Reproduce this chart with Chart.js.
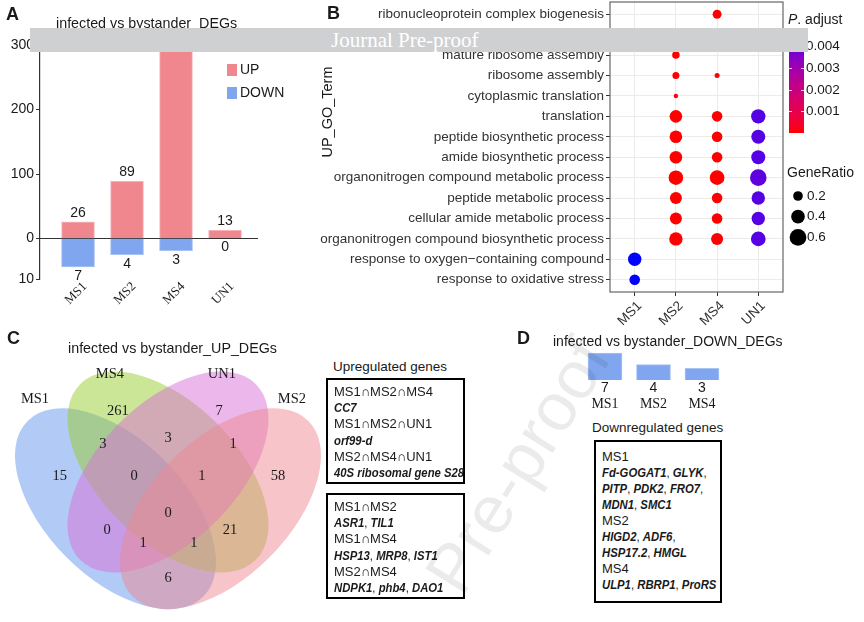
<!DOCTYPE html>
<html>
<head>
<meta charset="utf-8">
<script src="https://cdn.jsdelivr.net/npm/chart.js@4.4.1/dist/chart.umd.min.js"></script>
<style>
  body { margin: 0; background: #fff; font-family: "Liberation Sans", Arial, sans-serif; color: #1a1a1a; }
  #fig { position: relative; width: 864px; height: 622px; overflow: hidden; background: #fff; }
  canvas { position: absolute; }
  .txt { position: absolute; white-space: nowrap; line-height: 16px; font-size: 14.3px; }
  .panel { position: absolute; font-weight: bold; font-size: 18px; line-height: 20px; }
  .box { position: absolute; box-sizing: border-box; border: 2px solid #000; padding: 4px 0 0 6px; font-size: 13px; line-height: 16.2px; white-space: nowrap; }
  .box .g { display: inline-block; transform: scaleX(0.87); transform-origin: 0 50%; }
  .box i { font-weight: bold; font-size: 13px; }
  #banner { position: absolute; left: 30px; top: 28px; width: 778px; height: 24px; background: #cfd0d2; }
  #bannerText { position: absolute; left: 331px; top: 28px; line-height: 24px; font-family: "Liberation Serif", serif; font-size: 21px; color: #fff; }
  #wm { position: absolute; left: 517px; top: 465px; width: 0; height: 0; }
  #wm span { position: absolute; transform: translate(-50%, -50%) rotate(-58deg); font-size: 68px; color: rgba(0,0,0,0.08); white-space: nowrap; }
</style>
</head>
<body>
<div id="fig">
  <canvas id="aUp" width="300" height="251" style="left:0;top:0"></canvas>
  <canvas id="aDown" width="300" height="100" style="left:0;top:226px"></canvas>
  <canvas id="bDots" width="564" height="340" style="left:300px;top:-10px"></canvas>
  <canvas id="cVenn" width="330" height="267" style="left:0;top:355px"></canvas>
  <canvas id="dBars" width="160" height="75" style="left:575px;top:345px"></canvas>

  <div class="panel" style="left:6px;top:4px">A</div>
  <div class="txt" style="left:56px;top:15px">infected vs bystander_DEGs</div>
  <div class="panel" style="left:327px;top:3px">B</div>
  <div class="panel" style="left:7px;top:328px">C</div>
  <div class="txt" style="left:68px;top:340px">infected vs bystander_UP_DEGs</div>
  <div class="panel" style="left:517px;top:328px">D</div>
  <div class="txt" style="left:553px;top:333px;font-size:14px">infected vs bystander_DOWN_DEGs</div>

  <div class="txt" style="left:333px;top:359px;font-size:13.5px">Upregulated genes</div>
  <div class="box" style="left:326px;top:378px;width:139px;height:106px">
    MS1∩MS2∩MS4<br><span class="g"><i>CC7</i></span><br>MS1∩MS2∩UN1<br><span class="g"><i>orf99-d</i></span><br>MS2∩MS4∩UN1<br><span class="g"><i>40S ribosomal gene S28</i></span>
  </div>
  <div class="box" style="left:326px;top:493px;width:139px;height:106px">
    MS1∩MS2<br><span class="g"><i>ASR1</i>, <i>TIL1</i></span><br>MS1∩MS4<br><span class="g"><i>HSP13</i>, <i>MRP8</i>, <i>IST1</i></span><br>MS2∩MS4<br><span class="g"><i>NDPK1</i>, <i>phb4</i>, <i>DAO1</i></span>
  </div>

  <div class="txt" style="left:592px;top:420px;font-size:13.5px">Downregulated genes</div>
  <div class="box" style="left:594px;top:440px;width:128px;height:163px;padding-top:7px;line-height:16px">
    MS1<br><span class="g"><i>Fd-GOGAT1</i>, <i>GLYK</i>,</span><br><span class="g"><i>PITP</i>, <i>PDK2</i>, <i>FRO7</i>,</span><br><span class="g"><i>MDN1</i>, <i>SMC1</i></span><br>MS2<br><span class="g"><i>HIGD2</i>, <i>ADF6</i>,</span><br><span class="g"><i>HSP17.2</i>, <i>HMGL</i></span><br>MS4<br><span class="g"><i>ULP1</i>, <i>RBRP1</i>, <i>ProRS</i></span>
  </div>

  <div id="wm"><span>Pre-proof</span></div>
  <div id="banner"></div>
  <div id="bannerText">Journal Pre-proof</div>
</div>

<script>
// ---- data ----
const groups = ['MS1', 'MS2', 'MS4', 'UN1'];
const upCounts = [26, 89, 290, 13];
const downCounts = [7, 4, 3, 0];
const upTicks = [0, 100, 200, 300];
const downTicks = [10];

const goTerms = [
  'ribonucleoprotein complex biogenesis',
  'ribosome biogenesis',
  'mature ribosome assembly',
  'ribosome assembly',
  'cytoplasmic translation',
  'translation',
  'peptide biosynthetic process',
  'amide biosynthetic process',
  'organonitrogen compound metabolic process',
  'peptide metabolic process',
  'cellular amide metabolic process',
  'organonitrogen compound biosynthetic process',
  'response to oxygen\u2212containing compound',
  'response to oxidative stress'
];
// one entry per dot: term index, group index, GeneRatio, p.adjust
const dotTerm  = [0, 1, 2, 3, 3, 4, 5, 5, 5, 6, 6, 6, 7, 7, 7, 8, 8, 8, 9, 9, 9, 10, 10, 10, 11, 11, 11, 12, 13];
const dotGroup = [2, 1, 1, 1, 2, 1, 1, 2, 3, 1, 2, 3, 1, 2, 3, 1, 2, 3, 1, 2, 3, 1, 2, 3, 1, 2, 3, 0, 0];
const dotRatio = [0.17, 0.12, 0.12, 0.105, 0.054, 0.041, 0.34, 0.24, 0.44, 0.34, 0.24, 0.42, 0.34, 0.24, 0.42,
                  0.45, 0.46, 0.59, 0.31, 0.24, 0.385, 0.31, 0.24, 0.385, 0.385, 0.31, 0.46, 0.385, 0.24];
const dotPadj  = [0.00003, 0.00002, 0.00002, 0.00004, 0.00006, 0.00005, 0.00001, 0.00002, 0.0041, 0.00001, 0.00002, 0.0041,
                  0.00001, 0.00002, 0.0041, 0.00001, 0.00001, 0.0040, 0.00001, 0.00002, 0.0041, 0.00001, 0.00002, 0.0041,
                  0.00001, 0.00002, 0.0041, 0.0047, 0.0047];
const padjTicks = [0.001, 0.002, 0.003, 0.004];
const ratioTicks = [0.2, 0.4, 0.6];

const vennSets = ['MS1', 'MS4', 'UN1', 'MS2'];
const vennRegions = ['MS1', 'MS4', 'UN1', 'MS2', 'MS1-MS4', 'MS4-UN1', 'UN1-MS2', 'MS1-MS4-UN1', 'MS4-UN1-MS2',
                     'all', 'MS1-UN1', 'MS4-MS2', 'MS1-UN1-MS2', 'MS1-MS4-MS2', 'MS1-MS2'];
const vennCounts = [15, 261, 7, 58, 3, 3, 1, 0, 1, 0, 0, 21, 1, 1, 6];

const downGroups = ['MS1', 'MS2', 'MS4'];
const downOnly = [7, 4, 3];

// ---- styles / layout ----
const SANS = '"Liberation Sans", Arial, sans-serif';
const SERIF = '"Liberation Serif", "Times New Roman", serif';
const UP_COLOR = '#f0878f';
const DOWN_COLOR = '#7fa6ee';
const padjPalette = ['#FF0000', '#F4002F', '#E8004A', '#DB0062', '#CC0079', '#BC0090', '#A900A7', '#9200BE', '#7500D4', '#4A00EA', '#0000FF'];
const padjMin = 0, padjMax = 0.0047;
const vennShapes = [
  { x: 0.35, y: 0.465, rot: 45, fill: 'rgba(100,149,237,0.5)' },
  { x: 0.50, y: 0.57, rot: 45, fill: 'rgba(154,205,50,0.5)' },
  { x: 0.50, y: 0.57, rot: -45, fill: 'rgba(218,112,214,0.5)' },
  { x: 0.65, y: 0.465, rot: -45, fill: 'rgba(238,138,148,0.5)' }
];
const vennA = 0.355, vennB = 0.197;
const vennCountPos = [[0.191, 0.559], [0.357, 0.744], [0.646, 0.744], [0.814, 0.559], [0.314, 0.65], [0.5, 0.667],
  [0.686, 0.65], [0.403, 0.559], [0.597, 0.559], [0.5, 0.453], [0.326, 0.404], [0.677, 0.404], [0.429, 0.367],
  [0.574, 0.367], [0.5, 0.267]];
const vennSetPos = [[0.12, 0.779], [0.334, 0.85], [0.654, 0.85], [0.854, 0.779]];
const BY = 10; // panel B canvas sits 10px above the page top

Chart.defaults.font.family = SANS;
Chart.defaults.color = '#1a1a1a';
Chart.defaults.animation = false;
Chart.defaults.plugins.legend.display = false;
Chart.defaults.plugins.tooltip.enabled = false;

function hexRgb(h) { return [1, 3, 5].map(i => parseInt(h.substr(i, 2), 16)); }
function padjColor(p) {
  let t = (p - padjMin) / (padjMax - padjMin);
  t = Math.max(0, Math.min(1, t)) * (padjPalette.length - 1);
  const i = Math.min(Math.floor(t), padjPalette.length - 2), f = t - i;
  const a = hexRgb(padjPalette[i]), b = hexRgb(padjPalette[i + 1]);
  return 'rgb(' + a.map((v, k) => Math.round(v + (b[k] - v) * f)).join(',') + ')';
}
function ratioRadius(r) { return 10.8 * Math.sqrt(r); }

const xMin = -0.776, xMax = 3.673;

// ---- A: UP bars ----
const upPlugin = {
  id: 'upLabels',
  afterDatasetsDraw(chart) {
    const ctx = chart.ctx;
    ctx.save();
    ctx.font = '14px ' + SANS;
    ctx.fillStyle = '#1a1a1a';
    ctx.textAlign = 'center';
    ctx.textBaseline = 'middle';
    chart.getDatasetMeta(0).data.forEach((bar, i) => ctx.fillText(upCounts[i], bar.x, bar.y - 8.5));
    // zero line
    const y0 = chart.scales.y.getPixelForValue(0);
    ctx.strokeStyle = '#333';
    ctx.lineWidth = 1.2;
    ctx.beginPath(); ctx.moveTo(chart.chartArea.left, y0); ctx.lineTo(chart.chartArea.right, y0); ctx.stroke();
    // legend
    const items = [['UP', UP_COLOR, 70], ['DOWN', DOWN_COLOR, 93]];
    ctx.textAlign = 'left';
    items.forEach(([name, col, yy]) => {
      ctx.fillStyle = col;
      ctx.fillRect(227, yy - 6, 10, 12);
      ctx.fillStyle = '#1a1a1a';
      ctx.fillText(name, 240, yy);
    });
    ctx.restore();
  }
};
new Chart(document.getElementById('aUp'), {
  type: 'bar',
  data: { datasets: [{ data: upCounts.map((v, i) => ({ x: i, y: v })), backgroundColor: UP_COLOR,
    borderColor: '#f7c1c6', borderWidth: 1, barThickness: 33 }] },
  options: {
    responsive: false,
    layout: { padding: { top: 45, right: 42, bottom: 12.5, left: 0 } },
    scales: {
      x: { type: 'linear', min: xMin, max: xMax, offset: false, display: false },
      y: {
        min: 0, max: 300,
        afterBuildTicks: s => { s.ticks = upTicks.map(v => ({ value: v })); },
        afterFit: s => { s.width = 40; },
        grid: { drawOnChartArea: false, tickLength: 4, color: '#333' },
        border: { color: '#333', width: 1.2 },
        ticks: { font: { size: 14 }, color: '#1a1a1a', padding: 2 }
      }
    }
  },
  plugins: [upPlugin]
});

// ---- A: DOWN bars ----
const downPlugin = {
  id: 'downLabels',
  afterDatasetsDraw(chart) {
    const ctx = chart.ctx;
    ctx.save();
    ctx.font = '14px ' + SANS;
    ctx.fillStyle = '#1a1a1a';
    ctx.textAlign = 'center';
    ctx.textBaseline = 'middle';
    chart.getDatasetMeta(0).data.forEach((bar, i) => ctx.fillText(downCounts[i], bar.x, bar.y + 9));
    ctx.restore();
  }
};
new Chart(document.getElementById('aDown'), {
  type: 'bar',
  data: { datasets: [{ data: downCounts.map((v, i) => ({ x: i, y: v })), backgroundColor: DOWN_COLOR,
    borderColor: '#a9c3f4', borderWidth: 1, barThickness: 33 }] },
  options: {
    responsive: false,
    layout: { padding: { top: 12.5, right: 42, bottom: 0, left: 0 } },
    scales: {
      x: {
        type: 'linear', min: xMin, max: xMax, offset: false,
        afterBuildTicks: s => { s.ticks = groups.map((g, i) => ({ value: i })); },
        afterFit: s => { s.height = 47; },
        grid: { display: false, drawTicks: false },
        border: { display: false },
        ticks: { autoSkip: false, minRotation: 45, maxRotation: 45, padding: 0, labelOffset: 7,
          font: { family: SERIF, size: 13 }, color: '#1a1a1a', callback: v => groups[v] }
      },
      y: {
        min: 0, max: 10, reverse: true,
        afterBuildTicks: s => { s.ticks = downTicks.map(v => ({ value: v })); },
        afterFit: s => { s.width = 40; },
        grid: { drawOnChartArea: false, tickLength: 4, color: '#333' },
        border: { color: '#333', width: 1.2 },
        ticks: { font: { size: 14 }, color: '#1a1a1a', padding: 2 }
      }
    }
  },
  plugins: [downPlugin]
});

// ---- B: GO dot plot ----
const dotPlugin = {
  id: 'dotExtras',
  afterDraw(chart) {
    const ctx = chart.ctx, a = chart.chartArea;
    ctx.save();
    ctx.strokeStyle = '#666';
    ctx.lineWidth = 1.2;
    ctx.strokeRect(a.left, a.top, a.right - a.left, a.bottom - a.top);
    // y title
    ctx.fillStyle = '#1a1a1a';
    ctx.font = '14.5px ' + SANS;
    ctx.translate(28, 112 + BY);
    ctx.rotate(-Math.PI / 2);
    ctx.textAlign = 'center';
    ctx.textBaseline = 'middle';
    ctx.fillText('UP_GO_Term', 0, 0);
    ctx.restore();

    ctx.save();
    // colour bar legend
    const bx = 489, bw = 15, yPix = v => 133 + BY - (v - padjMin) / 0.001 * 21.67;
    ctx.font = 'italic 14px ' + SANS;
    ctx.fillStyle = '#1a1a1a';
    ctx.textBaseline = 'middle';
    ctx.fillText('P', 488, 20 + BY);
    const pw = ctx.measureText('P').width;
    ctx.font = '14px ' + SANS;
    ctx.fillText('. adjust', 488 + pw, 20 + BY);
    const top = yPix(padjMax), bot = yPix(padjMin);
    for (let y = Math.floor(top); y < bot; y++) {
      ctx.fillStyle = padjColor(padjMin + (bot - y - 0.5) / 21.67 * 0.001);
      ctx.fillRect(bx, y, bw, 1);
    }
    ctx.strokeStyle = 'rgba(255,255,255,0.8)';
    ctx.lineWidth = 1;
    ctx.font = '13.5px ' + SANS;
    padjTicks.forEach(v => {
      const y = Math.round(yPix(v)) + 0.5;
      ctx.beginPath();
      ctx.moveTo(bx, y); ctx.lineTo(bx + 3, y);
      ctx.moveTo(bx + bw - 3, y); ctx.lineTo(bx + bw, y);
      ctx.stroke();
      ctx.fillStyle = '#1a1a1a';
      ctx.fillText(v.toFixed(3), bx + bw + 2, y);
    });
    // size legend
    ctx.font = '14px ' + SANS;
    ctx.fillText('GeneRatio', 487, 173 + BY);
    ratioTicks.forEach((v, i) => {
      const y = 196 + BY + i * 20.7;
      ctx.fillStyle = '#000';
      ctx.beginPath(); ctx.arc(498, y, ratioRadius(v), 0, Math.PI * 2); ctx.fill();
      ctx.fillStyle = '#1a1a1a';
      ctx.font = '13.5px ' + SANS;
      ctx.fillText(v.toFixed(1), 507, y);
    });
    ctx.restore();
  }
};
new Chart(document.getElementById('bDots'), {
  type: 'bubble',
  data: { datasets: [{
    data: dotTerm.map((t, i) => ({ x: dotGroup[i] + 1, y: t + 1, r: ratioRadius(dotRatio[i]) })),
    backgroundColor: dotPadj.map(padjColor),
    borderWidth: 0
  }] },
  options: {
    responsive: false,
    layout: { padding: { top: 12, right: 81, bottom: 0, left: 0 } },
    scales: {
      x: {
        type: 'linear', min: 0.4, max: 4.6,
        afterBuildTicks: s => { s.ticks = groups.map((g, i) => ({ value: i + 1 })); },
        afterFit: s => { s.height = 38; },
        grid: { color: '#ebebeb', tickLength: 4, tickColor: '#333' },
        border: { display: false },
        ticks: { autoSkip: false, minRotation: 45, maxRotation: 45, padding: 2, labelOffset: 5,
          font: { size: 13.5 }, color: '#333', callback: v => groups[v - 1] }
      },
      y: {
        type: 'linear', min: 0.4, max: 14.6, reverse: true,
        afterBuildTicks: s => { s.ticks = goTerms.map((g, i) => ({ value: i + 1 })); },
        afterFit: s => { s.width = 310; },
        grid: { color: '#ebebeb', tickLength: 4, tickColor: '#333' },
        border: { display: false },
        ticks: { autoSkip: false, padding: 2, font: { size: 13.5 }, color: '#333', callback: v => goTerms[v - 1] }
      }
    }
  },
  plugins: [dotPlugin]
});

// ---- C: Venn ----
const vennPlugin = {
  id: 'venn',
  beforeDatasetsDraw(chart) {
    const ctx = chart.ctx, sx = chart.scales.x, sy = chart.scales.y;
    const unit = sx.getPixelForValue(1) - sx.getPixelForValue(0);
    ctx.save();
    vennShapes.forEach(e => {
      ctx.fillStyle = e.fill;
      ctx.beginPath();
      ctx.ellipse(sx.getPixelForValue(e.x), sy.getPixelForValue(e.y), vennA * unit, vennB * unit,
        e.rot * Math.PI / 180, 0, Math.PI * 2);
      ctx.fill();
    });
    ctx.restore();
  },
  afterDatasetsDraw(chart) {
    const ctx = chart.ctx, sx = chart.scales.x, sy = chart.scales.y;
    ctx.save();
    ctx.fillStyle = '#1a1a1a';
    ctx.textAlign = 'center';
    ctx.textBaseline = 'middle';
    ctx.font = '14.5px ' + SERIF;
    chart.getDatasetMeta(0).data.forEach((pt, i) => ctx.fillText(vennCounts[i], pt.x, pt.y));
    vennSets.forEach((s, i) => ctx.fillText(s, sx.getPixelForValue(vennSetPos[i][0]), sy.getPixelForValue(vennSetPos[i][1])));
    ctx.restore();
  }
};
new Chart(document.getElementById('cVenn'), {
  type: 'scatter',
  data: { datasets: [{ data: vennCounts.map((c, i) => ({ x: vennCountPos[i][0], y: vennCountPos[i][1] })), pointRadius: 0 }] },
  options: {
    responsive: false,
    layout: { padding: 0 },
    scales: {
      x: { type: 'linear', min: 0.02, max: 0.02 + 330 / 350, display: false },
      y: { type: 'linear', min: 0.9043 - 267 / 350, max: 0.9043, display: false }
    }
  },
  plugins: [vennPlugin]
});

// ---- D: DOWN bars ----
const dPlugin = {
  id: 'dLabels',
  afterDatasetsDraw(chart) {
    const ctx = chart.ctx, base = chart.chartArea.bottom;
    ctx.save();
    ctx.fillStyle = '#1a1a1a';
    ctx.textAlign = 'center';
    ctx.textBaseline = 'middle';
    chart.getDatasetMeta(0).data.forEach((bar, i) => {
      ctx.font = '14px ' + SANS;
      ctx.fillText(downOnly[i], bar.x, base + 8);
      ctx.font = '14px ' + SERIF;
      ctx.fillText(downGroups[i], bar.x, base + 24);
    });
    ctx.restore();
  }
};
new Chart(document.getElementById('dBars'), {
  type: 'bar',
  data: { labels: downGroups, datasets: [{ data: downOnly, backgroundColor: DOWN_COLOR,
    borderColor: '#a9c3f4', borderWidth: 1, barThickness: 34 }] },
  options: {
    responsive: false,
    layout: { padding: { top: 4.1, right: 8.75, bottom: 40, left: 5.75 } },
    scales: {
      x: { display: false },
      y: { display: false, min: 0, max: 8 }
    }
  },
  plugins: [dPlugin]
});
</script>
</body>
</html>
